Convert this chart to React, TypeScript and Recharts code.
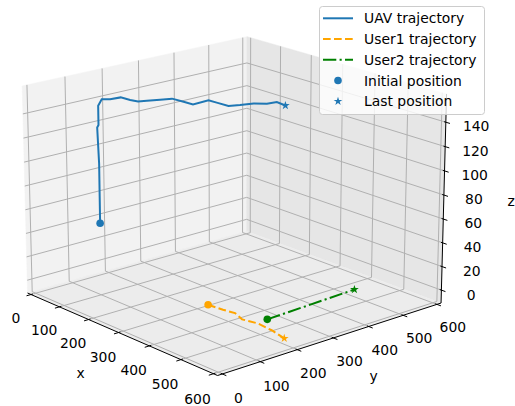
import { ScatterChart, Scatter, XAxis, YAxis, Legend } from 'recharts';

// UAV path (x, y, z)
const UAV_X = [100, 100, 98, 100, 100, 103.5, 114, 118, 146, 166, 174, 186, 196, 230, 258, 256, 280, 315, 325, 335, 355, 359, 390];
const UAV_Y = [100, 100, 98, 100, 100, 107, 121, 146, 149, 154, 171, 197, 221, 224, 226, 270, 272, 274, 297, 326, 345, 369, 365];
const UAV_Z = [50, 100, 130, 132, 148, 153, 153, 153, 153, 153, 153, 153, 153, 153, 153, 153, 153, 153, 153, 153, 153, 153, 153];

// ground users (z = 0)
const USER1_X = [356, 399, 430, 467, 506, 555, 604];
const USER1_Y = [182, 186, 192, 179, 188, 183, 172];
const USER2_X = [501, 489];
const USER2_Y = [218, 476];

const X_TICKS = [0, 100, 200, 300, 400, 500, 600];
const Y_TICKS = [0, 100, 200, 300, 400, 500, 600];
const Z_TICKS = [0, 20, 40, 60, 80, 100, 120, 140];

const LEGEND_LABELS = ['UAV trajectory', 'User1 trajectory', 'User2 trajectory', 'Initial position', 'Last position'];

const BLUE = '#1f77b4';
const ORANGE = '#ffa500';
const GREEN = '#008000';
const FONT = '"DejaVu Sans", sans-serif';

// camera, like mpl's view_init + perspective
const ELEV = 18;
const AZIM = -41;
const DIST = 10;
const X_PANE = [-12.5, 612.5];
const Y_PANE = [-12.5, 612.5];
const Z_PANE = [-11, 163];
const BOX = [1.1429, 1.1429, 0.842];
const ZOOM = 2598;
const CX = 233.2;
const CY = 195.3;

const rad = Math.PI / 180;
const ce = Math.cos(ELEV * rad), se = Math.sin(ELEV * rad);
const ca = Math.cos(AZIM * rad), sa = Math.sin(AZIM * rad);
const W = [ce * ca, ce * sa, se];
const U = [-sa, ca, 0];
const V = [-W[2] * U[1], W[2] * U[0], W[0] * U[1] - W[1] * U[0]];

function pt(x: number, y: number, z: number, extra: Record<string, any> = {}) {
  const q = [
    ((x - X_PANE[0]) / (X_PANE[1] - X_PANE[0]) - 0.5) * BOX[0],
    ((y - Y_PANE[0]) / (Y_PANE[1] - Y_PANE[0]) - 0.5) * BOX[1],
    ((z - Z_PANE[0]) / (Z_PANE[1] - Z_PANE[0]) - 0.5) * BOX[2],
  ];
  const dot = (p: number[]) => q[0] * p[0] + q[1] * p[1] + q[2] * p[2];
  const den = DIST - dot(W);
  return { px: CX + (ZOOM * dot(U)) / den, py: CY - (ZOOM * dot(V)) / den, ...extra };
}

const [x0, x1] = X_PANE;
const [y0, y1] = Y_PANE;
const [z0, z1] = Z_PANE;

const leftPane = [pt(x0, y0, z0), pt(x0, y1, z0), pt(x0, y1, z1), pt(x0, y0, z1)];
const rightPane = [pt(x0, y1, z0), pt(x1, y1, z0), pt(x1, y1, z1), pt(x0, y1, z1)];
const floorPane = [pt(x0, y0, z0), pt(x1, y0, z0), pt(x1, y1, z0), pt(x0, y1, z0)];

const gridPts = [
  ...X_TICKS.flatMap((x) => [pt(x, y0, z0), pt(x, y1, z0), pt(x, y1, z0), pt(x, y1, z1)]),
  ...Y_TICKS.flatMap((y) => [pt(x0, y, z0), pt(x1, y, z0), pt(x0, y, z0), pt(x0, y, z1)]),
  ...Z_TICKS.flatMap((z) => [pt(x0, y0, z), pt(x0, y1, z), pt(x0, y1, z), pt(x1, y1, z)]),
];

const axisPts = [
  pt(x0, y0, z0), pt(x1, y0, z0),
  pt(x1, y0, z0), pt(x1, y1, z0),
  pt(x1, y1, z0), pt(x1, y1, z1),
  ...X_TICKS.flatMap((x) => [pt(x, y0 + 5, z0), pt(x, y0 - 12, z0)]),
  ...Y_TICKS.flatMap((y) => [pt(x1 - 5, y, z0), pt(x1 + 12, y, z0)]),
  ...Z_TICKS.flatMap((z) => [pt(x1 - 5, y1, z), pt(x1 + 12, y1, z)]),
];

const tickLabels = [
  ...X_TICKS.map((x) => pt(x, -54, -27, { label: String(x) })),
  ...Y_TICKS.map((y) => pt(661, y, -25, { label: String(y) })),
  ...Z_TICKS.map((z) => pt(674, 639, z, { label: String(z) })),
  pt(290, -105, -37, { label: 'x' }),
  pt(732, 300, -29, { label: 'y' }),
  pt(707, 717, 75, { label: 'z' }),
];

const uavPts = UAV_X.map((x, i) => pt(x, UAV_Y[i], UAV_Z[i]));
const user1Pts = USER1_X.map((x, i) => pt(x, USER1_Y[i], 0));
const user2Pts = USER2_X.map((x, i) => pt(x, USER2_Y[i], 0));

const noDot = () => <g />;

const pairPath = (points: { x: number; y: number }[]) => {
  let d = '';
  for (let i = 0; i + 1 < points.length; i += 2) {
    d += `M${points[i].x},${points[i].y}L${points[i + 1].x},${points[i + 1].y}`;
  }
  return d;
};

const polyLine = (fill: string) => (p: any) => (
  <polygon points={p.points.map((q: any) => `${q.x},${q.y}`).join(' ')} fill={fill} stroke={fill} strokeWidth={0.5} />
);

const starPath = (cx: number, cy: number, r: number) => {
  const pts: string[] = [];
  for (let i = 0; i < 10; i++) {
    const rr = i % 2 === 0 ? r : r * 0.382;
    const a = -Math.PI / 2 + (i * Math.PI) / 5;
    pts.push(`${cx + rr * Math.cos(a)},${cy + rr * Math.sin(a)}`);
  }
  return `M${pts.join('L')}Z`;
};

const circleShape = (color: string) => (p: any) => <circle cx={p.cx} cy={p.cy} r={3.8} fill={color} />;
const starShape = (color: string) => (p: any) => <path d={starPath(p.cx, p.cy, 4.6)} fill={color} />;

const labelShape = (p: any) => (
  <text x={p.cx} y={p.cy} textAnchor="middle" dominantBaseline="central" fontSize={13.9} fontFamily={FONT} fill="#000">
    {p.payload.label}
  </text>
);

function LegendBox() {
  const handles = [
    <line x1={4} x2={34} y1={0} y2={0} stroke={BLUE} strokeWidth={2} />,
    <line x1={4} x2={34} y1={0} y2={0} stroke={ORANGE} strokeWidth={2} strokeDasharray="7.7 3.3" />,
    <line x1={4} x2={34} y1={0} y2={0} stroke={GREEN} strokeWidth={2} strokeDasharray="13.3 3.3 2.1 3.3" />,
    <circle cx={19} cy={0} r={3.8} fill={BLUE} />,
    <path d={starPath(19, 0, 4.6)} fill={BLUE} />,
  ];
  return (
    <svg width={167} height={110} style={{ display: 'block' }}>
      <rect x={0.5} y={0.5} width={165} height={108} rx={3} fill="#fff" fillOpacity={0.8} stroke="#cccccc" />
      {LEGEND_LABELS.map((label, i) => (
        <g key={label} transform={`translate(0, ${12.3 + i * 20.75})`}>
          {handles[i]}
          <text x={45} y={0} dominantBaseline="central" fontSize={13.9} fontFamily={FONT} fill="#000">
            {label}
          </text>
        </g>
      ))}
    </svg>
  );
}

export default function App() {
  return (
    <div style={{ position: 'absolute', left: 0, top: 0 }}>
      <ScatterChart width={515} height={406} margin={{ top: 0, right: 0, bottom: 0, left: 0 }}>
        <XAxis type="number" dataKey="px" domain={[0, 515]} hide allowDataOverflow />
        <YAxis type="number" dataKey="py" domain={[0, 406]} reversed hide allowDataOverflow />

        {/* panes */}
        <Scatter data={leftPane} shape={noDot} line={polyLine('#f2f2f2')} isAnimationActive={false} />
        <Scatter data={rightPane} shape={noDot} line={polyLine('#e6e6e6')} isAnimationActive={false} />
        <Scatter data={floorPane} shape={noDot} line={polyLine('#ececec')} isAnimationActive={false} />

        {/* grid + axes */}
        <Scatter
          data={gridPts}
          shape={noDot}
          line={(p: any) => <path d={pairPath(p.points)} stroke="#b0b0b0" strokeWidth={1} fill="none" />}
          isAnimationActive={false}
        />
        <Scatter
          data={axisPts}
          shape={noDot}
          line={(p: any) => <path d={pairPath(p.points)} stroke="#000" strokeWidth={1} fill="none" />}
          isAnimationActive={false}
        />
        <Scatter data={tickLabels} shape={labelShape} isAnimationActive={false} />

        {/* trajectories */}
        <Scatter data={uavPts} shape={noDot} line={{ stroke: BLUE, strokeWidth: 2 }} isAnimationActive={false} />
        <Scatter data={user1Pts} shape={noDot} line={{ stroke: ORANGE, strokeWidth: 2, strokeDasharray: '7.7 3.3' }} isAnimationActive={false} />
        <Scatter data={user2Pts} shape={noDot} line={{ stroke: GREEN, strokeWidth: 2, strokeDasharray: '13.3 3.3 2.1 3.3' }} isAnimationActive={false} />

        {/* initial / last positions */}
        <Scatter data={[uavPts[0]]} shape={circleShape(BLUE)} isAnimationActive={false} />
        <Scatter data={[user1Pts[0]]} shape={circleShape(ORANGE)} isAnimationActive={false} />
        <Scatter data={[user2Pts[0]]} shape={circleShape(GREEN)} isAnimationActive={false} />
        <Scatter data={[uavPts[uavPts.length - 1]]} shape={starShape(BLUE)} isAnimationActive={false} />
        <Scatter data={[user1Pts[user1Pts.length - 1]]} shape={starShape(ORANGE)} isAnimationActive={false} />
        <Scatter data={[user2Pts[user2Pts.length - 1]]} shape={starShape(GREEN)} isAnimationActive={false} />

        <Legend
          layout="horizontal"
          verticalAlign="middle"
          align="center"
          content={() => <LegendBox />}
          wrapperStyle={{ position: 'absolute', left: 319, top: 6, width: 167, height: 110 }}
        />
      </ScatterChart>
    </div>
  );
}
